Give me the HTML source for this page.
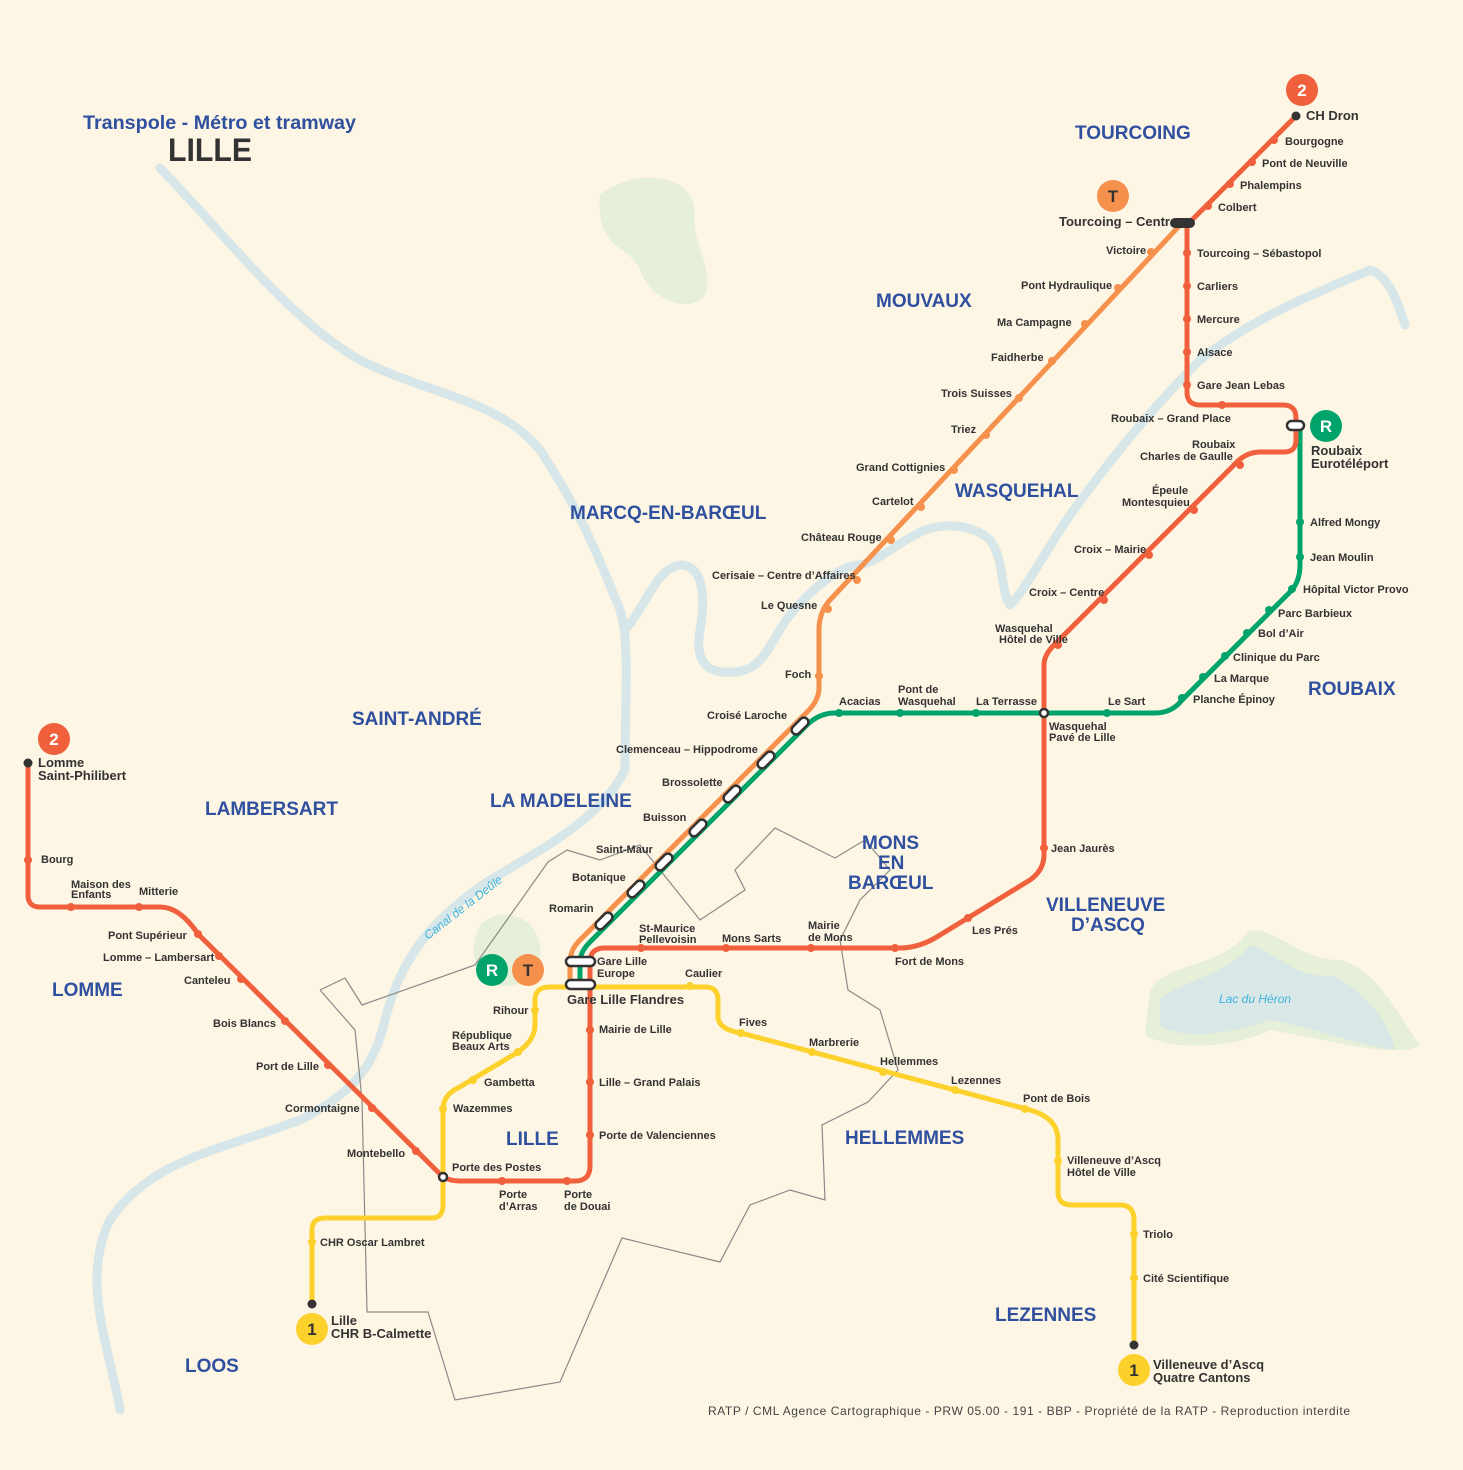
<!DOCTYPE html>
<html><head><meta charset="utf-8"><style>
html,body{margin:0;padding:0;background:#fef6e4;}
svg{display:block;font-family:"Liberation Sans",sans-serif;}
.s{font-size:11px;font-weight:bold;fill:#333;}
.a{font-size:19px;font-weight:bold;fill:#2f4f9f;}
</style></head><body>
<svg width="1463" height="1470" viewBox="0 0 1463 1470" xmlns="http://www.w3.org/2000/svg">
<rect width="1463" height="1470" fill="#fef6e4"/>
<path d="M600,195 C630,170 690,170 695,210 C690,240 715,270 705,295 C690,315 650,300 640,270 C630,245 595,250 600,195Z" fill="#e6efd8"/>
<path d="M1150,990 C1170,960 1220,970 1250,930 C1280,930 1300,960 1340,960 C1380,970 1400,1020 1420,1045 C1400,1060 1330,1040 1270,1030 C1230,1050 1170,1050 1145,1035Z" fill="#e6efd8"/>
<path d="M1160,1000 C1180,980 1230,975 1250,945 C1280,955 1300,980 1330,975 C1370,990 1390,1030 1395,1050 C1360,1045 1320,1030 1270,1020 C1230,1035 1180,1040 1160,1025Z" fill="#d9e7e6"/>
<path d="M480,925 C500,905 535,915 540,945 C545,975 520,990 495,985 C470,975 470,945 480,925Z" fill="#e6efd8"/>
<g fill="none" stroke="#d7e6e8" stroke-width="9" stroke-linecap="round" stroke-linejoin="round">
<path d="M160,168 C230,240 290,320 360,360 C430,395 500,400 540,450 C580,510 600,560 620,610 C630,640 625,700 625,770 C600,820 540,850 490,880 C430,920 400,960 385,1020 C375,1060 360,1090 300,1120 C220,1150 150,1160 110,1220 C80,1280 110,1350 120,1410"/>
<path d="M625,630 C650,600 655,570 680,565 C705,565 705,600 700,630 C695,660 705,675 735,672 C765,670 770,640 790,615 C810,590 840,565 860,565 C880,560 895,545 915,535 C940,520 975,525 990,540 C1005,560 1000,590 1010,605 C1025,590 1040,560 1070,515 C1110,460 1150,410 1200,360 C1250,320 1310,295 1370,270 C1390,275 1400,310 1405,325"/>
</g>
<polyline points="320,990 345,978 362,1005 475,965 548,862 567,850 600,860 640,845 700,920 745,890 735,870 775,828 835,858 865,840 890,870 860,900 840,940 848,990 880,1010 898,1070 868,1102 822,1125 825,1200 790,1190 750,1205 720,1262 622,1238 560,1382 455,1400 428,1312 367,1312 362,1100 355,1030 320,990" fill="none" stroke="#8a8a8a" stroke-width="1.2"/>
<g fill="none" stroke-width="5" stroke-linejoin="round" stroke-linecap="round">
<path stroke="#f5914c" d="M1182,223 L830,600 Q819,612 819,630 L819,688 Q819,700 808,711 L580,940 Q570,950 570,962 L570,985"/>
<path stroke="#00a46a" d="M580,985 L580,962 Q580,952 590,942 L808,724 Q820,713 835,713 L1155,713 Q1172,713 1182,700 L1290,592 Q1300,582 1300,565 L1300,426"/>
<path stroke="#f0603c" d="M28,763 L28,895 Q28,907 40,907 L160,907 Q180,907 198,934 L443,1177 Q450,1181 460,1181 L575,1181 Q590,1181 590,1166 L590,962 Q590,948 605,948 L900,948 Q920,948 940,935 L1030,880 Q1044,870 1044,855 L1044,665 Q1044,655 1054,645 L1233,466 Q1245,452 1260,452 L1284,452 Q1296,452 1296,440 L1296,418 Q1296,405 1283,405 L1200,405 Q1187,405 1187,392 L1187,225 L1296,116"/>
<path stroke="#fdd12c" d="M312,1304 L312,1230 Q312,1218 325,1218 L432,1218 Q443,1218 443,1205 L443,1110 Q443,1095 458,1088 L518,1052 Q535,1040 535,1025 L535,1000 Q535,987 550,987 L705,987 Q718,987 718,1000 L718,1018 Q720,1030 741,1033 L1030,1110 Q1058,1118 1058,1140 L1058,1192 Q1058,1205 1072,1205 L1120,1205 Q1134,1205 1134,1220 L1134,1345"/>
</g>
<g fill="#f0603c">
<circle cx="1274" cy="140" r="4"/><circle cx="1252" cy="162" r="4"/><circle cx="1230" cy="184" r="4"/><circle cx="1208" cy="206" r="4"/>
<circle cx="1187" cy="253" r="4"/><circle cx="1187" cy="286" r="4"/><circle cx="1187" cy="319" r="4"/><circle cx="1187" cy="352" r="4"/><circle cx="1187" cy="385" r="4"/><circle cx="1222" cy="405" r="4"/>
<circle cx="1240" cy="465" r="4"/><circle cx="1194" cy="510" r="4"/><circle cx="1149" cy="555" r="4"/><circle cx="1104" cy="600" r="4"/><circle cx="1058" cy="645" r="4"/>
<circle cx="1044" cy="848" r="4"/><circle cx="968" cy="918" r="4"/><circle cx="895" cy="948" r="4"/><circle cx="811" cy="948" r="4"/><circle cx="726" cy="948" r="4"/><circle cx="641" cy="948" r="4"/>
<circle cx="590" cy="1030" r="4"/><circle cx="590" cy="1082" r="4"/><circle cx="590" cy="1135" r="4"/><circle cx="567" cy="1181" r="4"/><circle cx="502" cy="1181" r="4"/>
<circle cx="416" cy="1151" r="4"/><circle cx="372" cy="1108" r="4"/><circle cx="328" cy="1065" r="4"/><circle cx="285" cy="1021" r="4"/><circle cx="241" cy="979" r="4"/><circle cx="219" cy="956" r="4"/><circle cx="198" cy="934" r="4"/><circle cx="139" cy="907" r="4"/><circle cx="71" cy="907" r="4"/><circle cx="28" cy="860" r="4"/>
</g>
<g fill="#f5914c">
<circle cx="1151" cy="252" r="4"/><circle cx="1118" cy="288" r="4"/><circle cx="1085" cy="324" r="4"/><circle cx="1052" cy="361" r="4"/><circle cx="1019" cy="398" r="4"/><circle cx="986" cy="435" r="4"/><circle cx="954" cy="470" r="4"/><circle cx="921" cy="507" r="4"/><circle cx="891" cy="540" r="4"/><circle cx="857" cy="580" r="4"/><circle cx="828" cy="609" r="4"/><circle cx="819" cy="676" r="4"/>
</g>
<g fill="#00a46a">
<circle cx="839" cy="713" r="4"/><circle cx="900" cy="713" r="4"/><circle cx="976" cy="713" r="4"/><circle cx="1107" cy="713" r="4"/><circle cx="1182" cy="698" r="4"/><circle cx="1203" cy="677" r="4"/><circle cx="1225" cy="656" r="4"/><circle cx="1247" cy="633" r="4"/><circle cx="1269" cy="610" r="4"/><circle cx="1292" cy="589" r="4"/><circle cx="1300" cy="557" r="4"/><circle cx="1300" cy="522" r="4"/>
</g>
<g fill="#fdd12c">
<circle cx="312" cy="1242" r="4"/><circle cx="443" cy="1109" r="4"/><circle cx="473" cy="1080" r="4"/><circle cx="518" cy="1052" r="4"/><circle cx="535" cy="1010" r="4"/><circle cx="690" cy="986" r="4"/><circle cx="741" cy="1033" r="4"/><circle cx="812" cy="1052" r="4"/><circle cx="883" cy="1072" r="4"/><circle cx="955" cy="1090" r="4"/><circle cx="1025" cy="1109" r="4"/><circle cx="1058" cy="1161" r="4"/><circle cx="1134" cy="1234" r="4"/><circle cx="1134" cy="1278" r="4"/>
</g>
<g fill="#333"><circle cx="1296" cy="116" r="4.5"/><circle cx="28" cy="763" r="4.5"/><circle cx="312" cy="1304" r="4.5"/><circle cx="1134" cy="1345" r="4.5"/></g>
<rect x="1170" y="218" width="25" height="10" rx="5" fill="#333"/>
<g fill="#fff" stroke="#333" stroke-width="2.5">
<circle cx="1044" cy="713" r="4"/><circle cx="443" cy="1177" r="4"/>
<rect x="566" y="957" width="29" height="9" rx="4.5"/><rect x="566" y="980" width="29" height="9" rx="4.5"/>
<rect x="1287" y="421" width="17" height="9" rx="4.5"/>
<rect x="-10" y="-4.5" width="20" height="9" rx="4.5" transform="translate(800,726) rotate(-45)"/>
<rect x="-10" y="-4.5" width="20" height="9" rx="4.5" transform="translate(766,760) rotate(-45)"/>
<rect x="-10" y="-4.5" width="20" height="9" rx="4.5" transform="translate(732,794) rotate(-45)"/>
<rect x="-10" y="-4.5" width="20" height="9" rx="4.5" transform="translate(698,828) rotate(-45)"/>
<rect x="-10" y="-4.5" width="20" height="9" rx="4.5" transform="translate(664,862) rotate(-45)"/>
<rect x="-10" y="-4.5" width="20" height="9" rx="4.5" transform="translate(636,889) rotate(-45)"/>
<rect x="-10" y="-4.5" width="20" height="9" rx="4.5" transform="translate(604,921) rotate(-45)"/>
</g>
<g font-weight="bold" font-size="17" text-anchor="middle" fill="#fff">
<circle cx="1302" cy="90" r="16" fill="#f0603c"/><text x="1302" y="96">2</text>
<circle cx="54" cy="739" r="16" fill="#f0603c"/><text x="54" y="745">2</text>
<circle cx="1113" cy="196" r="16" fill="#f5914c"/><text x="1113" y="202" fill="#333">T</text>
<circle cx="1326" cy="426" r="16" fill="#00a46a"/><text x="1326" y="432">R</text>
<circle cx="492" cy="970" r="16" fill="#00a46a"/><text x="492" y="976">R</text>
<circle cx="528" cy="970" r="16" fill="#f5914c"/><text x="528" y="976" fill="#333">T</text>
<circle cx="312" cy="1329" r="16" fill="#fdd12c"/><text x="312" y="1335" fill="#333">1</text>
<circle cx="1134" cy="1370" r="16" fill="#fdd12c"/><text x="1134" y="1376" fill="#333">1</text>
</g>
<text x="83" y="129" font-size="19" font-weight="bold" fill="#2f4f9f" textLength="273" lengthAdjust="spacingAndGlyphs">Transpole - Métro et tramway</text>
<text x="168" y="161" font-size="32" font-weight="bold" fill="#333" textLength="84" lengthAdjust="spacingAndGlyphs">LILLE</text>
<g class="a">
<text x="1075" y="139">TOURCOING</text><text x="876" y="307">MOUVAUX</text><text x="955" y="497">WASQUEHAL</text>
<text x="570" y="519">MARCQ-EN-BARŒUL</text><text x="1308" y="695">ROUBAIX</text><text x="352" y="725">SAINT-ANDRÉ</text>
<text x="205" y="815">LAMBERSART</text><text x="490" y="807">LA MADELEINE</text>
<text x="862" y="849">MONS</text><text x="878" y="869">EN</text><text x="848" y="889">BARŒUL</text>
<text x="1046" y="911">VILLENEUVE</text><text x="1071" y="931">D’ASCQ</text>
<text x="52" y="996">LOMME</text><text x="506" y="1145">LILLE</text><text x="845" y="1144">HELLEMMES</text>
<text x="995" y="1321">LEZENNES</text><text x="185" y="1372">LOOS</text>
</g>
<text x="428" y="940" font-size="12" font-style="italic" fill="#3db3e0" transform="rotate(-38 428 940)">Canal de la Deûle</text>
<text x="1219" y="1003" font-size="12" font-style="italic" fill="#3db3e0">Lac du Héron</text>
<g class="s">
<text x="1306" y="120" font-size="13">CH Dron</text>
<text x="1285" y="145">Bourgogne</text><text x="1262" y="167">Pont de Neuville</text><text x="1240" y="189">Phalempins</text><text x="1218" y="211">Colbert</text>
<text x="1059" y="226" font-size="13">Tourcoing – Centre</text>
<text x="1197" y="257">Tourcoing – Sébastopol</text><text x="1197" y="290">Carliers</text><text x="1197" y="323">Mercure</text><text x="1197" y="356">Alsace</text><text x="1197" y="389">Gare Jean Lebas</text>
<text x="1111" y="422">Roubaix – Grand Place</text>
<text x="1311" y="455" font-size="13">Roubaix</text><text x="1311" y="468" font-size="13">Eurotéléport</text>
<text x="1192" y="448">Roubaix</text><text x="1140" y="460">Charles de Gaulle</text>
<text x="1152" y="494">Épeule</text><text x="1122" y="506">Montesquieu</text>
<text x="1074" y="553">Croix – Mairie</text><text x="1029" y="596">Croix – Centre</text>
<text x="995" y="632">Wasquehal</text><text x="999" y="643">Hôtel de Ville</text>
<text x="1049" y="730">Wasquehal</text><text x="1049" y="741">Pavé de Lille</text>
<text x="1051" y="852">Jean Jaurès</text><text x="972" y="934">Les Prés</text><text x="895" y="965">Fort de Mons</text>
<text x="808" y="929">Mairie</text><text x="808" y="941">de Mons</text><text x="722" y="942">Mons Sarts</text>
<text x="639" y="932">St-Maurice</text><text x="639" y="943">Pellevoisin</text>
<text x="597" y="965">Gare Lille</text><text x="597" y="977">Europe</text>
<text x="567" y="1004" font-size="13">Gare Lille Flandres</text>
<text x="599" y="1033">Mairie de Lille</text><text x="599" y="1086">Lille – Grand Palais</text><text x="599" y="1139">Porte de Valenciennes</text>
<text x="564" y="1198">Porte</text><text x="564" y="1210">de Douai</text><text x="499" y="1198">Porte</text><text x="499" y="1210">d’Arras</text>
<text x="452" y="1171">Porte des Postes</text><text x="347" y="1157">Montebello</text><text x="285" y="1112">Cormontaigne</text><text x="256" y="1070">Port de Lille</text>
<text x="213" y="1027">Bois Blancs</text><text x="184" y="984">Canteleu</text><text x="103" y="961">Lomme – Lambersart</text><text x="108" y="939">Pont Supérieur</text>
<text x="139" y="895">Mitterie</text><text x="71" y="888">Maison des</text><text x="71" y="898">Enfants</text><text x="41" y="863">Bourg</text>
<text x="38" y="767" font-size="13">Lomme</text><text x="38" y="780" font-size="13">Saint-Philibert</text>
<text x="1106" y="254">Victoire</text><text x="1021" y="289">Pont Hydraulique</text><text x="997" y="326">Ma Campagne</text><text x="991" y="361">Faidherbe</text>
<text x="941" y="397">Trois Suisses</text><text x="951" y="433">Triez</text><text x="856" y="471">Grand Cottignies</text><text x="872" y="505">Cartelot</text>
<text x="801" y="541">Château Rouge</text><text x="712" y="579">Cerisaie – Centre d’Affaires</text><text x="761" y="609">Le Quesne</text><text x="785" y="678">Foch</text>
<text x="707" y="719">Croisé Laroche</text><text x="616" y="753">Clemenceau – Hippodrome</text><text x="662" y="786">Brossolette</text><text x="643" y="821">Buisson</text>
<text x="596" y="853">Saint-Maur</text><text x="572" y="881">Botanique</text><text x="549" y="912">Romarin</text>
<text x="839" y="705">Acacias</text><text x="898" y="693">Pont de</text><text x="898" y="705">Wasquehal</text><text x="976" y="705">La Terrasse</text><text x="1108" y="705">Le Sart</text>
<text x="1193" y="703">Planche Épinoy</text><text x="1214" y="682">La Marque</text><text x="1233" y="661">Clinique du Parc</text><text x="1258" y="637">Bol d’Air</text>
<text x="1278" y="617">Parc Barbieux</text><text x="1303" y="593">Hôpital Victor Provo</text><text x="1310" y="561">Jean Moulin</text><text x="1310" y="526">Alfred Mongy</text>
<text x="685" y="977">Caulier</text><text x="739" y="1026">Fives</text><text x="809" y="1046">Marbrerie</text><text x="880" y="1065">Hellemmes</text><text x="951" y="1084">Lezennes</text><text x="1023" y="1102">Pont de Bois</text>
<text x="1067" y="1164">Villeneuve d’Ascq</text><text x="1067" y="1176">Hôtel de Ville</text><text x="1143" y="1238">Triolo</text><text x="1143" y="1282">Cité Scientifique</text>
<text x="1153" y="1369" font-size="13">Villeneuve d’Ascq</text><text x="1153" y="1382" font-size="13">Quatre Cantons</text>
<text x="493" y="1014">Rihour</text><text x="452" y="1039">République</text><text x="452" y="1050">Beaux Arts</text><text x="484" y="1086">Gambetta</text><text x="453" y="1112">Wazemmes</text>
<text x="320" y="1246">CHR Oscar Lambret</text>
<text x="331" y="1325" font-size="13">Lille</text><text x="331" y="1338" font-size="13">CHR B-Calmette</text>
</g>
<text x="708" y="1415" font-size="12" fill="#444" textLength="642" lengthAdjust="spacing">RATP / CML Agence Cartographique - PRW 05.00 - 191 - BBP - Propriété de la RATP - Reproduction interdite</text>
</svg>
</body></html>
